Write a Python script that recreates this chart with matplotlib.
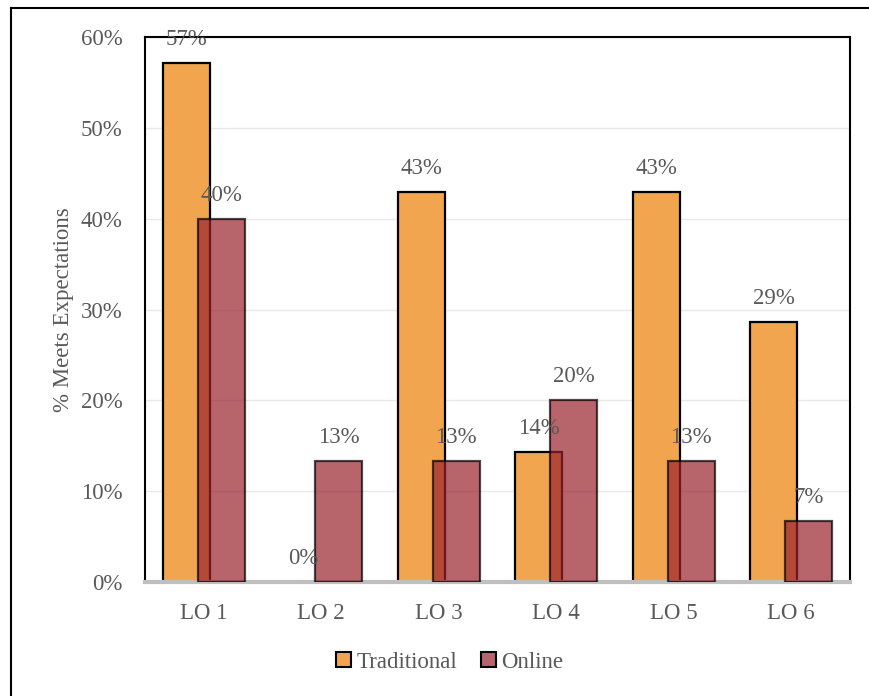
import matplotlib.pyplot as plt
import numpy as np
from matplotlib.lines import Line2D
from matplotlib.patches import Patch

# share of students meeting expectations per learning outcome
outcomes = ["LO 1", "LO 2", "LO 3", "LO 4", "LO 5", "LO 6"]
traditional = [57.1, 0.0, 42.9, 14.3, 42.9, 28.6]
online = [40.0, 13.3, 13.3, 20.0, 13.3, 6.7]

plt.rcParams['font.family'] = ['Liberation Serif', 'DejaVu Serif']
text_gray = "#595959"
trad_color = "#F2A54F"
online_color = "#9B222D"
fsize = 16.5

fig = plt.figure(figsize=(8.7, 6.96), dpi=100)
ax = fig.add_axes([145 / 870, 1 - 582 / 696, 705 / 870, 545 / 696])

x = np.arange(len(outcomes))
width = 0.4
offset = 0.149

ax.bar(x - offset, traditional, width, color=trad_color,
       edgecolor="black", linewidth=1.6, zorder=2)
ax.bar(x + offset, online, width, color=online_color, alpha=0.7,
       edgecolor="black", linewidth=1.6, zorder=3)

# value labels above each bar
for xs, vals in [(x - offset, traditional), (x + offset, online)]:
    for xi, v in zip(xs, vals):
        ax.annotate(f"{v:.0f}%", (xi, v), xytext=(0, 17), textcoords="offset points",
                    ha="center", va="center", fontsize=fsize, color=text_gray,
                    zorder=4, annotation_clip=False)

ax.set_xlim(-0.5, len(outcomes) - 0.5)
ax.set_ylim(0, 60)
ax.set_yticks(np.arange(0, 61, 10))
ax.set_yticklabels([f"{t}%" for t in range(0, 61, 10)])
ax.set_xticks(x)
ax.set_xticklabels(outcomes)
ax.tick_params(axis="both", length=0, labelsize=fsize, colors=text_gray)
ax.tick_params(axis="x", pad=15)
ax.tick_params(axis="y", pad=16)
ax.grid(axis="y", color="#E8E8E8", linewidth=1, zorder=0)
ax.set_axisbelow(True)

for side in ["top", "left", "right"]:
    ax.spines[side].set_color("black")
    ax.spines[side].set_linewidth(1.5)
ax.spines["bottom"].set_color("#BFBFBF")
ax.spines["bottom"].set_linewidth(3)

ax.set_ylabel("% Meets Expectations", fontsize=fsize, color=text_gray, labelpad=5)

handles = [Patch(facecolor=trad_color, edgecolor="black", linewidth=1.5),
           Patch(facecolor="#B8646C", edgecolor="black", linewidth=1.5)]
fig.legend(handles, ["Traditional", "Online"], loc="center",
           bbox_to_anchor=(0.517, 1 - 662 / 696), ncol=2, frameon=False,
           handlelength=0.65, handleheight=0.65, handletextpad=0.25,
           columnspacing=1.0, prop={"size": fsize}, labelcolor=text_gray)

# outer chart frame
fig.add_artist(Line2D([11 / 870, 11 / 870], [0, 1 - 8 / 696], color="black",
                      linewidth=1.5, transform=fig.transFigure))
fig.add_artist(Line2D([11 / 870, 1], [1 - 8 / 696, 1 - 8 / 696], color="black",
                      linewidth=1.5, transform=fig.transFigure))

fig.savefig("out.png", dpi=100)
